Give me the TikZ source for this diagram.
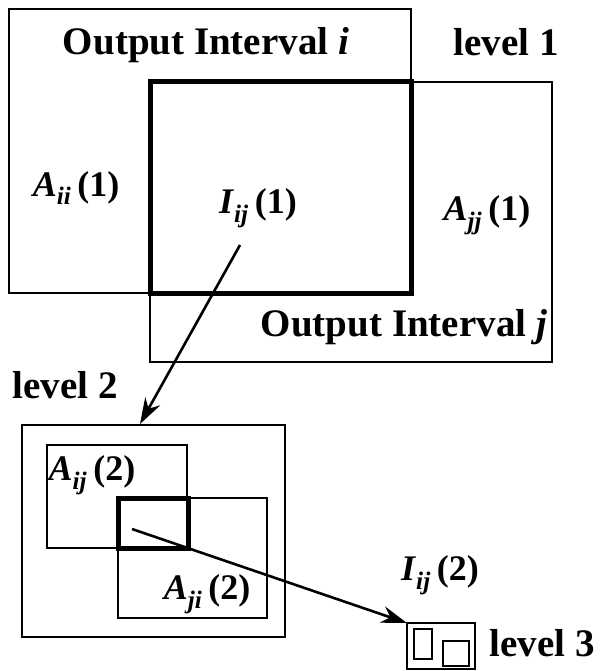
\documentclass[tikz,border=0pt]{standalone}
\usepackage{fontspec}
\setmainfont{Liberation Serif}
\usetikzlibrary{arrows.meta, positioning}

\tikzset{
  box/.style={draw, line width=2pt},
  inter/.style={draw, line width=5pt},
  bigtxt/.style={font=\fontsize{39}{44}\selectfont\bfseries},
  lbl/.style={font=\fontsize{36}{40}\selectfont\bfseries},
  arr/.style={line width=2.6pt, -{Stealth[length=26pt, width=17pt]}}
}
\newcommand{\symb}[3]{\textit{#1}\textsubscript{\textit{#2}}\,(#3)}

\begin{document}
\begin{tikzpicture}[x=1pt, y=-1pt]
  \useasboundingbox (0,0) rectangle (599,671);
  % level 1
  \draw[box] (9,9) rectangle (411,293);
  \draw[box] (150,82) rectangle (552,362);
  \draw[inter] (150,82) rectangle (411,293);
  \node[bigtxt] (outi) at (206,45) {Output Interval \textit{i}};
  \node[bigtxt] (lev1) at (506,42) {level 1};
  \node[lbl] (aii) at (76,188) {\symb{A}{ii}{1}};
  \node[lbl] (iij1) at (258,208) {\symb{I}{ij}{1}};
  \node[lbl] (ajj) at (487,215) {\symb{A}{jj}{1}};
  \node[bigtxt] (outj) at (404,327) {Output Interval \textit{j}};
  % level 2
  \node[bigtxt] (lev2) at (65,385) {level 2};
  \draw[box] (22,425) rectangle (285,637);
  \draw[box] (47,445) rectangle (187,548);
  \draw[box] (118,498) rectangle (267,618);
  \draw[inter] (118,498) rectangle (188,548);
  \node[lbl] (aij2) at (92,475) {\symb{A}{ij}{2}};
  \node[lbl] (aji2) at (207,594) {\symb{A}{ji}{2}};
  % level 3
  \draw[box] (407,623) rectangle (475,669);
  \draw[box] (414,629) rectangle (432,659);
  \draw[box] (443,641) rectangle (469,666);
  \node[lbl] (iij2) at (440,575) {\symb{I}{ij}{2}};
  \node[bigtxt] (lev3) at (542,643) {level 3};
  % connectors
  \coordinate (from1) at (240,245);
  \coordinate (to2) at (140,424);
  \coordinate (from2) at (132,529);
  \coordinate (to3) at (407,623);
  \draw[arr] (from1) -- (to2);
  \draw[arr] (from2) -- (to3);
\end{tikzpicture}
\end{document}
